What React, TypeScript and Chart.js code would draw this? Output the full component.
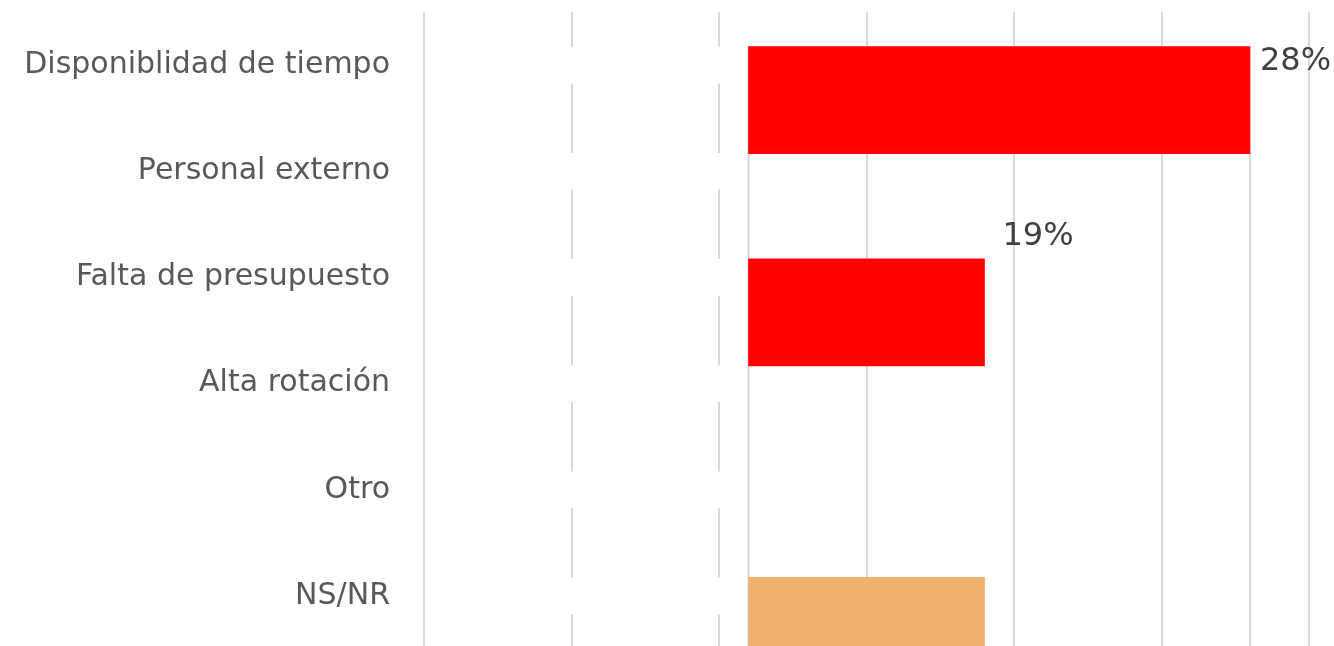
import React, { useEffect, useRef } from "react";
import { Chart, registerables } from "chart.js";

Chart.register(...registerables);

// ---- data ----
const categories = [
  "Disponiblidad de tiempo",
  "Personal externo",
  "Falta de presupuesto",
  "Alta rotación",
  "Otro",
  "NS/NR",
];
const barValues = [28, 19, 19];
const barRows = [0.83, 2.83, 5.83];
const barColors = ["#FF0000", "#FF0000", "#EEB16F"];
const barStart = 11;
const labelRows: (number | null)[] = [0.47, 2.12, null];
const labelGaps = [10, 18, 10];
const axisMin = 0;
const axisMax = 30;
const axisStep = 5;

const GRID = "#D9D9D9";

const labelPlugin = {
  id: "barValueLabels",
  afterDatasetsDraw(chart: any) {
    const { ctx } = chart;
    const xs = chart.scales.x;
    const ys = chart.scales.y2;
    ctx.save();
    ctx.font = "32px 'DejaVu Sans'";
    ctx.fillStyle = "#404040";
    ctx.textAlign = "left";
    ctx.textBaseline = "middle";
    barValues.forEach((v, i) => {
      const r = labelRows[i];
      if (r == null) return;
      ctx.fillText(`${v}%`, xs.getPixelForValue(v) + labelGaps[i], ys.getPixelForValue(r));
    });
    ctx.restore();
  },
};

export default function App() {
  const ref = useRef<HTMLCanvasElement | null>(null);

  useEffect(() => {
    document.body.style.margin = "0";
    document.body.style.overflow = "hidden";
    const canvas = ref.current!;
    const rowCount = categories.length;
    const chart = new Chart(canvas, {
      type: "bar",
      data: {
        labels: categories,
        datasets: [
          {
            type: "bar",
            label: "cover",
            data: categories.map(() => [0.1, barStart]) as any,
            backgroundColor: "#FFFFFF",
            borderWidth: 0,
            barThickness: 36,
            grouped: false,
            xAxisID: "x",
            yAxisID: "y",
            order: 3,
          } as any,
          {
            type: "line",
            label: "startLine",
            data: [
              { x: barStart, y: barRows[0] - 0.5 },
              { x: barStart, y: rowCount },
            ],
            borderColor: GRID,
            borderWidth: 2,
            pointRadius: 0,
            xAxisID: "x",
            yAxisID: "y2",
            order: 2,
          } as any,
          {
            type: "line",
            label: "endLine",
            data: [
              { x: barValues[0], y: barRows[0] + 0.5 },
              { x: barValues[0], y: rowCount },
            ],
            borderColor: GRID,
            borderWidth: 2,
            pointRadius: 0,
            xAxisID: "x",
            yAxisID: "y2",
            order: 2,
          } as any,
          {
            type: "bar",
            label: "values",
            data: barValues.map((v, i) => ({ x: [barStart, v], y: barRows[i] })),
            backgroundColor: barColors,
            borderWidth: 0,
            barThickness: 107,
            grouped: false,
            xAxisID: "x",
            yAxisID: "y2",
            order: 0,
          } as any,
        ],
      },
      options: {
        indexAxis: "y",
        animation: false,
        responsive: false,
        layout: { padding: { top: 12, bottom: 11, left: 0, right: 25 } },
        plugins: { legend: { display: false }, tooltip: { enabled: false } },
        scales: {
          x: {
            type: "linear",
            min: axisMin,
            max: axisMax,
            offset: false,
            ticks: { display: false, stepSize: axisStep },
            grid: { color: GRID, lineWidth: 2, drawTicks: false },
            border: { display: false },
          },
          y: {
            type: "category",
            offset: true,
            grid: { display: false, drawTicks: false },
            border: { display: false },
            ticks: {
              padding: 34,
              color: "#595959",
              font: { family: "'DejaVu Sans'", size: 30 },
            },
            afterFit(s: any) {
              s.width = 424;
              s.paddingTop = 0;
              s.paddingBottom = 0;
            },
          },
          y2: {
            type: "linear",
            display: false,
            offset: false,
            position: "right",
            min: 0,
            max: rowCount,
            reverse: true,
            grid: { offset: false },
          },
        },
      } as any,
      plugins: [labelPlugin],
    });
    return () => chart.destroy();
  }, []);

  return (
    <div style={{ position: "fixed", left: 0, top: 0, width: 1334, height: 660, overflow: "hidden", background: "#fff" }}>
      <canvas ref={ref} width={1334} height={660} style={{ display: "block" }} />
    </div>
  );
}
